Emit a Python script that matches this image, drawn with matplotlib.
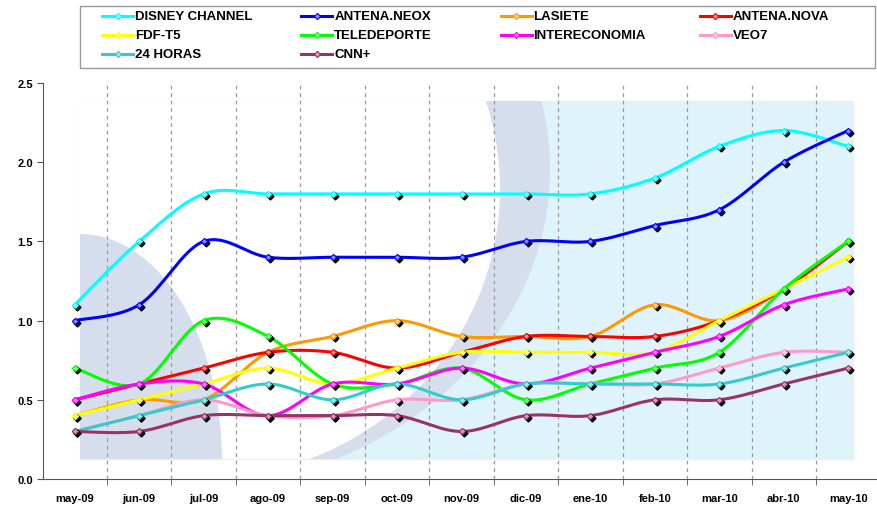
import matplotlib
matplotlib.use("Agg")
import matplotlib.pyplot as plt
import matplotlib.transforms as mtransforms
from matplotlib.patches import Rectangle, Ellipse
from matplotlib.lines import Line2D
import numpy as np

plt.rcParams['font.family'] = ['Liberation Sans', 'DejaVu Sans']

months = ["may-09", "jun-09", "jul-09", "ago-09", "sep-09", "oct-09", "nov-09",
          "dic-09", "ene-10", "feb-10", "mar-10", "abr-10", "may-10"]

disney = [1.1, 1.5, 1.8, 1.8, 1.8, 1.8, 1.8, 1.8, 1.8, 1.9, 2.1, 2.2, 2.1]
neox = [1.0, 1.1, 1.5, 1.4, 1.4, 1.4, 1.4, 1.5, 1.5, 1.6, 1.7, 2.0, 2.2]
lasiete = [0.4, 0.5, 0.5, 0.8, 0.9, 1.0, 0.9, 0.9, 0.9, 1.1, 1.0, 1.2, 1.5]
nova = [0.5, 0.6, 0.7, 0.8, 0.8, 0.7, 0.8, 0.9, 0.9, 0.9, 1.0, 1.2, 1.5]
fdf = [0.4, 0.5, 0.6, 0.7, 0.6, 0.7, 0.8, 0.8, 0.8, 0.8, 1.0, 1.2, 1.4]
teledeporte = [0.7, 0.6, 1.0, 0.9, 0.6, 0.6, 0.7, 0.5, 0.6, 0.7, 0.8, 1.2, 1.5]
intereconomia = [0.5, 0.6, 0.6, 0.4, 0.6, 0.6, 0.7, 0.6, 0.7, 0.8, 0.9, 1.1, 1.2]
veo7 = [0.3, 0.4, 0.5, 0.4, 0.4, 0.5, 0.5, 0.6, 0.6, 0.6, 0.7, 0.8, 0.8]
horas24 = [0.3, 0.4, 0.5, 0.6, 0.5, 0.6, 0.5, 0.6, 0.6, 0.6, 0.6, 0.7, 0.8]
cnn = [0.3, 0.3, 0.4, 0.4, 0.4, 0.4, 0.3, 0.4, 0.4, 0.5, 0.5, 0.6, 0.7]

names = ["DISNEY CHANNEL", "ANTENA.NEOX", "LASIETE", "ANTENA.NOVA", "FDF-T5",
         "TELEDEPORTE", "INTERECONOMIA", "VEO7", "24 HORAS", "CNN+"]
series = [disney, neox, lasiete, nova, fdf, teledeporte, intereconomia, veo7, horas24, cnn]
colors = ["#00ffff", "#0000ff", "#ff9900", "#ff0000", "#ffff00",
          "#00ff00", "#ff00ff", "#ff99cc", "#33cccc", "#993366"]


def lighten(c, f=0.55):
    rgb = np.array(matplotlib.colors.to_rgb(c))
    return tuple(rgb + (1 - rgb) * f)


def smooth(xs, ys, n=20):
    # excel-style smoothed line: bezier with control points from neighbours
    pts = np.column_stack([xs, ys]).astype(float)
    out = [pts[0]]
    for i in range(len(pts) - 1):
        p0 = pts[i - 1] if i > 0 else pts[i]
        p1, p2 = pts[i], pts[i + 1]
        p3 = pts[i + 2] if i + 2 < len(pts) else pts[i + 1]
        c1 = p1 + (p2 - p0) / 6
        c2 = p2 - (p3 - p1) / 6
        t = np.linspace(0, 1, n)[1:, None]
        seg = (1 - t) ** 3 * p1 + 3 * (1 - t) ** 2 * t * c1 + 3 * (1 - t) * t ** 2 * c2 + t ** 3 * p2
        out.extend(seg)
    out = np.array(out)
    return out[:, 0], out[:, 1]


fig = plt.figure(figsize=(8.77, 5.06), dpi=100)

# decorative background (pixel coordinates)
bg = fig.add_axes([0, 0, 1, 1], zorder=0)
bg.set_xlim(0, 877)
bg.set_ylim(506, 0)
bg.axis('off')
frame = Rectangle((80, 102), 773, 358, facecolor="#dff3fc", edgecolor="#eeeeee", lw=1)
bg.add_patch(frame)
for e in [Ellipse((180, 170), 740, 640, facecolor="#d6deee", edgecolor="none"),
          Ellipse((200, 190), 600, 580, facecolor="white", edgecolor="none"),
          Ellipse((80, 462), 284, 454, facecolor="#d6deee", edgecolor="none")]:
    bg.add_patch(e)
    e.set_clip_path(frame)

ax = fig.add_axes([42.5 / 877, 1 - 480 / 506, 838 / 877, 396 / 506], zorder=1)
ax.patch.set_visible(False)

x = np.arange(len(months))
shadow = mtransforms.offset_copy(ax.transData, fig=fig, x=2, y=-2, units='dots')
for name, ys, c in zip(names, series, colors):
    sx, sy = smooth(x, ys)
    ax.plot(sx, sy, color=c, lw=2.2, solid_capstyle='round', zorder=3)
    ax.plot(x, ys, ls='none', marker='D', ms=3.5, color='black', transform=shadow, zorder=3)
    ax.plot(x, ys, ls='none', marker='D', ms=3.2, mfc=lighten(c), mec=c, mew=0.8, zorder=3)

ax.set_xlim(-0.5, 12.5)
ax.set_ylim(0, 2.5)
ax.set_yticks(np.arange(0, 2.51, 0.5))
ax.set_yticklabels(["%.1f" % v for v in np.arange(0, 2.51, 0.5)], fontweight='bold', fontsize=8)
ax.set_xticks(x)
ax.set_xticklabels(months, fontweight='bold', fontsize=8)
ax.set_xticks(np.arange(0.5, 12.5, 1), minor=True)
ax.tick_params(axis='x', which='major', length=0, pad=10)
ax.tick_params(axis='x', which='minor', length=4, color='#555555')
ax.tick_params(axis='y', length=4, color='#555555', pad=3)
for v in np.arange(0.5, 12.5, 1):
    ax.axvline(v, color='#999999', lw=0.9, ls=(0, (3, 3)), zorder=2)
ax.spines['top'].set_visible(False)
ax.spines['right'].set_visible(False)
ax.spines['left'].set_color('#555555')
ax.spines['bottom'].set_color('#555555')

# legend box drawn in pixel coordinates of the background axes
leg = fig.add_axes([0, 0, 1, 1], zorder=4)
leg.set_xlim(0, 877)
leg.set_ylim(506, 0)
leg.axis('off')
leg.add_patch(Rectangle((79.5, 6.5), 795, 62, facecolor='white', edgecolor='#999999', lw=1))
for i, (name, c) in enumerate(zip(names, colors)):
    row, col = divmod(i, 4)
    x0 = 102 + col * 199.3
    y0 = 17 + row * 19
    leg.add_line(Line2D([x0, x0 + 31], [y0, y0], color=c, lw=2.2))
    leg.add_line(Line2D([x0 + 15.5], [y0], marker='D', ms=3.2, mfc=lighten(c), mec=c, mew=0.8))
    leg.text(x0 + 33, y0, name, fontsize=9.5, fontweight='bold', va='center', ha='left')

fig.savefig("out.png", dpi=100)
